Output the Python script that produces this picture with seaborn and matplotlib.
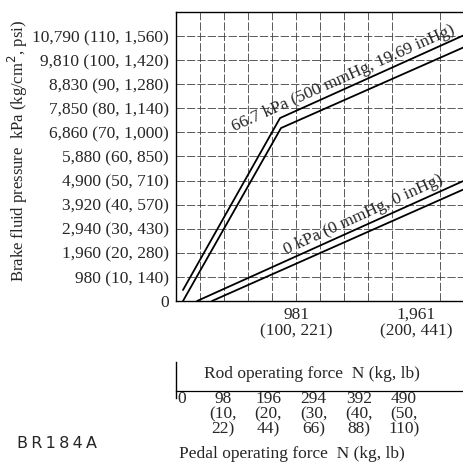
import numpy as np
import pandas as pd
import matplotlib
matplotlib.use("Agg")
import matplotlib.pyplot as plt
import seaborn as sns

# Courbes : force tige (N) / pression (kPa)
rod_force_vac_upper = [57, 850, 2345]
pressure_vac_upper = [448, 7448, 10804]
rod_force_vac_lower = [57, 858, 2345]
pressure_vac_lower = [0, 7041, 10315]
rod_force_atm_upper = [172, 2345]
pressure_atm_upper = [0, 4880]
rod_force_atm_lower = [294, 2345]
pressure_atm_lower = [0, 4533]

y_ticks = [0, 980, 1960, 2940, 3920, 4900, 5880, 6860, 7850, 8830, 9810, 10790]
y_labels = ["0", "980 (10, 140)", "1,960 (20, 280)", "2,940 (30, 430)",
            "3,920 (40, 570)", "4,900 (50, 710)", "5,880 (60, 850)",
            "6,860 (70, 1,000)", "7,850 (80, 1,140)", "8,830 (90, 1,280)",
            "9,810 (100, 1,420)", "10,790 (110, 1,560)"]
x_ticks = [981, 1961]
x_labels = ["981\n(100, 221)", "1,961\n(200, 441)"]
pedal_ticks = [0, 98, 196, 294, 392, 490]
pedal_labels = ["0", "98\n(10,\n22)", "196\n(20,\n44)", "294\n(30,\n66)",
                "392\n(40,\n88)", "490\n(50,\n110)"]

sns.set_style("white")
plt.rcParams["font.family"] = ["Liberation Serif", "DejaVu Serif"]
plt.rcParams["font.size"] = 12

fig = plt.figure(figsize=(4.63, 4.68), dpi=100)
ax = fig.add_axes([176 / 463, 1 - 301 / 468, 287 / 463, 289 / 468])

curves = [(rod_force_vac_upper, pressure_vac_upper),
          (rod_force_vac_lower, pressure_vac_lower),
          (rod_force_atm_upper, pressure_atm_upper),
          (rod_force_atm_lower, pressure_atm_lower)]
for fx, py in curves:
    sns.lineplot(x=fx, y=py, ax=ax, color="black", linewidth=1.3, sort=False,
                 estimator=None)

ax.set_xlim(0, 2345)
ax.set_ylim(0, 11765)

# grille
ax.set_xticks(np.arange(0, 2345, 196.1), minor=True)
ax.set_yticks(np.arange(0, 11765, 980.5), minor=True)
ax.grid(which="minor", color="0.25", linewidth=0.6, linestyle=(0, (10, 2.5)))

ax.set_xticks(x_ticks)
ax.set_xticklabels(x_labels, fontsize=12.5, linespacing=1.1)
ax.set_yticks(y_ticks)
ax.set_yticklabels(y_labels, fontsize=12.5)
ax.tick_params(axis="x", which="major", length=0, pad=4)
ax.tick_params(axis="y", which="major", length=4, width=0.8, pad=1, color="black")
ax.tick_params(which="minor", length=0)

for side in ["left", "top", "bottom"]:
    ax.spines[side].set_color("black")
    ax.spines[side].set_linewidth(1.0)
ax.spines["right"].set_visible(False)

ax.set_xlabel("Rod operating force  N (kg, lb)", fontsize=12.5)
ax.xaxis.set_label_coords(0.474, -0.225)
ax.set_ylabel("Brake fluid pressure  kPa (kg/cm$^{2}$, psi)", fontsize=12)
ax.yaxis.set_label_coords(-0.51, 0.52)

ax.text(1381, 8900, "66.7 kPa (500 mmHg, 19.69 inHg)", rotation=24,
        rotation_mode="anchor", ha="center", va="baseline", fontsize=12.5)
ax.text(1544, 3345, "0 kPa (0 mmHg, 0 inHg)", rotation=24.5,
        rotation_mode="anchor", ha="center", va="baseline", fontsize=12.5)

# axe de la force pédale
ax2 = fig.add_axes([176 / 463, 1 - 398 / 468, 287 / 463, 36 / 468])
ax2.set_xlim(-4, 618)
ax2.set_ylim(0, 1)
ax2.set_yticks([])
ax2.spines["bottom"].set_position(("axes", 0.19))
ax2.spines["top"].set_visible(False)
ax2.spines["right"].set_visible(False)
ax2.spines["left"].set_color("black")
ax2.spines["bottom"].set_color("black")
ax2.spines["left"].set_linewidth(1.0)
ax2.spines["bottom"].set_linewidth(0.9)
ax2.set_xticks(pedal_ticks)
ax2.set_xticklabels(pedal_labels, fontsize=12.5, linespacing=0.93)
ax2.tick_params(axis="x", direction="in", length=4, width=0.8, pad=0, color="black")
ax2.get_xticklabels()[0].set_horizontalalignment("left")
ax2.patch.set_alpha(0)

fig.text(292 / 463, 1 - 454 / 468, "Pedal operating force  N (kg, lb)",
         ha="center", va="center", fontsize=12.5)
fig.text(17 / 463, 1 - 444 / 468, "B\u2009R\u20091\u20098\u20094\u2009A", ha="left",
         va="center", fontsize=11.5, family=["DejaVu Sans"])

fig.savefig("out.png", dpi=100)
